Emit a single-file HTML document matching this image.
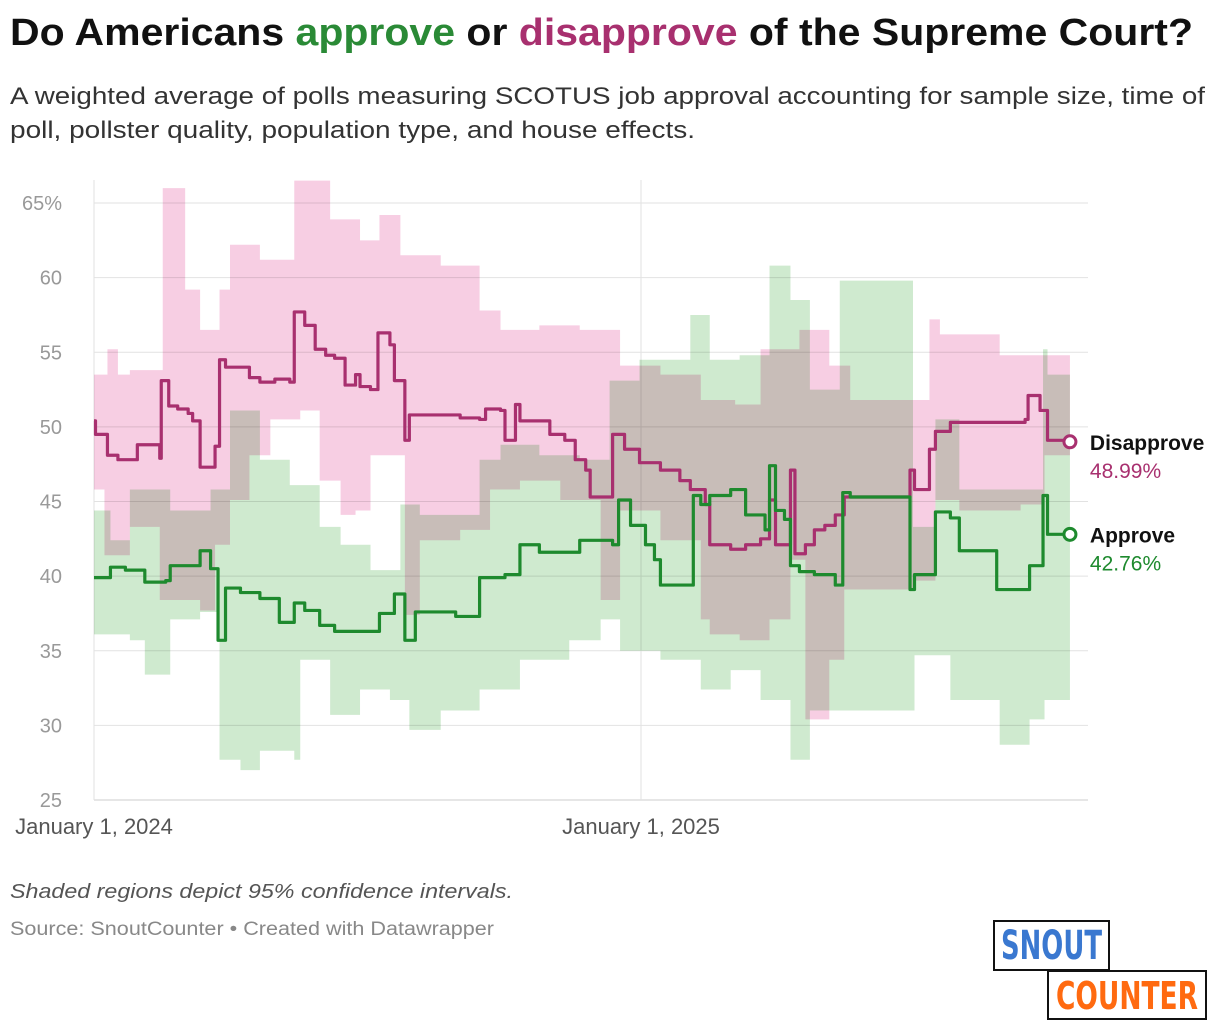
<!DOCTYPE html>
<html><head><meta charset="utf-8"><style>
body{margin:0;background:#fff;width:1220px;height:1032px;overflow:hidden;font-family:"Liberation Sans",sans-serif;position:relative}
.t{position:absolute;white-space:nowrap;transform-origin:0 0}
</style></head><body>
<div class="t fit" data-w="1183" style="left:10px;top:12px;font-size:38px;font-weight:bold;color:#111">Do Americans <span style="color:#2a8a36">approve</span> or <span style="color:#a8306f">disapprove</span> of the Supreme Court?</div>
<div class="t fit" data-w="1195" style="left:10px;top:83px;font-size:24px;color:#333">A weighted average of polls measuring SCOTUS job approval accounting for sample size, time of</div>
<div class="t fit" data-w="685" style="left:10px;top:117px;font-size:24px;color:#333">poll, pollster quality, population type, and house effects.</div>
<svg id="chart" width="1220" height="860" style="position:absolute;left:0;top:0"></svg>
<div class="t fit" data-w="503" style="left:10px;top:881px;font-size:20px;font-style:italic;color:#555">Shaded regions depict 95% confidence intervals.</div>
<div class="t fit" data-w="484" style="left:10px;top:919px;font-size:19px;color:#888">Source: SnoutCounter • Created with Datawrapper</div>
<div style="position:absolute;left:993px;top:920px;width:113px;height:47px;border:2px solid #111;background:#fff;overflow:hidden">
<div class="t fit" data-w="101" style="left:6px;top:1px;color:#3a78d0;font-weight:bold;font-size:40px;line-height:46px;font-family:'DejaVu Sans','Liberation Sans',sans-serif">SNOUT</div></div>
<div style="position:absolute;left:1047px;top:970px;width:156px;height:46px;border:2px solid #111;background:#fff;overflow:hidden">
<div class="t fit" data-w="142" style="left:7px;top:1px;color:#ff6a10;font-weight:bold;font-size:38px;line-height:46px;font-family:'DejaVu Sans','Liberation Sans',sans-serif">COUNTER</div></div>
<script>
const yTicks=[25,30,35,40,45,50,55,60,65];
const xTickLabels=["January 1, 2024","January 1, 2025"];
const xTickDays=[0,366];
const disDays=[0,1,9,16,29,44,45,50,56,63,66,71,81,84,88,104,111,121,131,134,141,148,155,161,168,175,178,185,190,198,201,208,211,245,258,262,272,275,282,285,305,315,322,329,332,347,355,365,379,392,399,409,412,426,436,446,452,456,466,469,476,482,489,496,502,546,549,559,563,573,623,625,633,638,653];
const disVals=[50.4,49.5,48.1,47.8,48.8,47.9,53.1,51.4,51.2,50.9,50.4,47.3,48.7,54.5,54,53.3,53,53.2,53,57.7,56.8,55.2,54.8,54.6,52.8,53.5,52.7,52.5,56.3,55.5,53.1,49.1,50.8,50.6,50.5,51.2,51.1,49.1,51.5,50.4,49.5,49.1,47.8,47.1,45.3,49.5,48.5,47.6,47.1,46.4,45.8,44.8,42.1,41.8,42.1,42.5,45.1,42.1,47.1,41.5,42.1,43.1,43.4,44.1,45.3,47.1,45.8,48.5,49.7,50.3,50.5,52.1,51.1,49.1,49];
const appDays=[0,11,21,34,48,51,71,78,83,88,98,111,124,134,141,151,161,191,201,208,215,242,258,275,285,298,325,347,351,359,369,375,379,401,406,412,426,436,449,452,456,462,466,472,482,496,501,506,546,549,563,573,579,604,626,635,638,653];
const appVals=[39.9,40.6,40.4,39.6,39.7,40.7,41.7,40.5,35.7,39.2,38.9,38.5,36.9,38.2,37.7,36.7,36.3,37.5,38.8,35.7,37.6,37.3,39.9,40.1,42.1,41.6,42.4,42.1,45.1,43.4,42.1,41.1,39.4,45.4,44.8,45.4,45.8,44.1,43.1,47.4,44.4,43.8,40.7,40.3,40.1,39.4,45.6,45.3,39.1,40.1,44.3,43.9,41.7,39.1,40.7,45.4,42.8,42.8];
const dHiDays=[0,9,16,24,46,61,71,84,91,111,134,158,178,191,205,232,258,272,298,325,352,379,406,429,446,472,492,506,559,566,606,653];
const dHiVals=[53.5,55.2,53.5,53.8,66,59.2,56.5,59.2,62.2,61.2,66.5,63.9,62.5,64.2,61.5,60.8,57.8,56.5,56.8,56.5,54.1,53.5,51.8,51.5,55.2,56.5,54.1,51.8,57.2,56.2,54.8,54.8];
const dLoDays=[0,7,24,44,71,81,91,104,118,138,151,165,175,185,208,218,245,265,285,312,339,352,379,406,412,432,452,466,476,492,502,549,563,579,620,636,653];
const dLoVals=[45.8,41.4,43.3,38.4,37.7,42.1,45.1,48.1,50.5,51.1,46.4,44.1,44.4,48.1,37.4,42.4,43.1,45.8,46.4,45.1,38.4,44.4,42.4,37.1,36.1,35.7,37.1,41.1,30.4,34.4,39.1,39.7,45.1,44.4,44.8,48.1,43.3];
const aHiDays=[0,11,24,51,78,91,111,131,151,165,185,205,218,258,272,298,325,345,365,399,412,432,452,466,479,499,548,563,579,635,638,653];
const aHiVals=[44.4,42.4,45.8,44.4,45.8,51.1,47.8,46.1,43.3,42.1,40.4,44.8,44.1,47.8,48.8,48.1,47.8,53.1,54.5,57.5,54.5,54.8,60.8,58.5,52.5,59.8,43.3,50.5,45.8,55.2,53.5,53.5];
const aLoDays=[0,24,34,51,71,84,98,111,134,138,158,178,198,211,232,258,285,318,339,352,379,406,426,446,466,479,549,573,606,626,636,653];
const aLoVals=[36.1,35.7,33.4,37.1,37.6,27.7,27,28.3,27.7,34.4,30.7,32.4,31.7,29.7,31,32.4,34.4,35.7,37.1,35,34.4,32.4,33.7,31.7,27.7,31,34.7,31.7,28.7,30.4,31.7,31.4];

const svg=document.getElementById('chart');const NS='http://www.w3.org/2000/svg';
const X=d=>94+d*547/366, Y=v=>800-(v-25)*597/40;
function mk(t,a){const e=document.createElementNS(NS,t);for(const k in a)e.setAttribute(k,a[k]);svg.appendChild(e);return e;}
yTicks.forEach(v=>{const l=mk('line',{x1:94,x2:1088,y1:Y(v),y2:Y(v),stroke:v===25?'#ccc':'#e2e2e2','stroke-width':1});


const t=mk('text',{x:62,y:Y(v)+7,'text-anchor':'end','font-size':20,fill:'#999','font-family':'Liberation Sans'});t.textContent=v===65?'65%':v;

});
xTickDays.forEach((d,i)=>{const l=mk('line',{x1:X(d),x2:X(d),y1:180,y2:800,stroke:'#e2e2e2'});


const t=mk('text',{x:X(d),y:834,'text-anchor':'middle','font-size':22,fill:'#555','font-family':'Liberation Sans'});t.textContent=xTickLabels[i];

});
function stepPts(days,vals){let p=[];for(let i=0;i<days.length;i++){if(i>0)p.push([X(days[i]),Y(vals[i-1])]);p.push([X(days[i]),Y(vals[i])]);}return p;}
function band(hd,hv,ld,lv,fill,name){const hi=stepPts(hd,hv),lo=stepPts(ld,lv).reverse();
const p=mk('polygon',{points:hi.concat(lo).map(q=>q.join(',')).join(' '),fill:fill,style:'mix-blend-mode:multiply'});

}
band(dHiDays,dHiVals,dLoDays,dLoVals,'#f7cee3','disapprove-ci-band');
band(aHiDays,aHiVals,aLoDays,aLoVals,'#cfeacf','approve-ci-band');
function line(days,vals,col,name){const p=mk('polyline',{points:stepPts(days,vals).map(q=>q.join(',')).join(' '),fill:'none',stroke:col,'stroke-width':3.2,'stroke-linejoin':'round'});


const d=days[days.length-1],v=vals[vals.length-1];
const c=mk('circle',{cx:X(d),cy:Y(v),r:6,fill:'#fff',stroke:col,'stroke-width':3});

return [X(d),Y(v)];}
const dp=line(disDays,disVals,'#a8306f','disapprove-line');
const ap=line(appDays,appVals,'#1e8a2e','approve-line');
function lab(pt,name,val,col,id){let t=mk('text',{x:pt[0]+20,y:pt[1]+8,'font-size':21,'font-weight':'bold',fill:'#111','font-family':'Liberation Sans'});t.textContent=name;


t=mk('text',{x:pt[0]+20,y:pt[1]+36,'font-size':21,fill:col,'font-family':'Liberation Sans'});t.textContent=val;

}
lab(dp,'Disapprove','48.99%','#a8306f','disapprove');
lab(ap,'Approve','42.76%','#1e8a2e','approve');
document.querySelectorAll('.fit').forEach(e=>{const w=e.getBoundingClientRect().width;const tw=+e.dataset.w;if(w>0)e.style.transform='scaleX('+(tw/w)+')';});
</script>
</body></html>
